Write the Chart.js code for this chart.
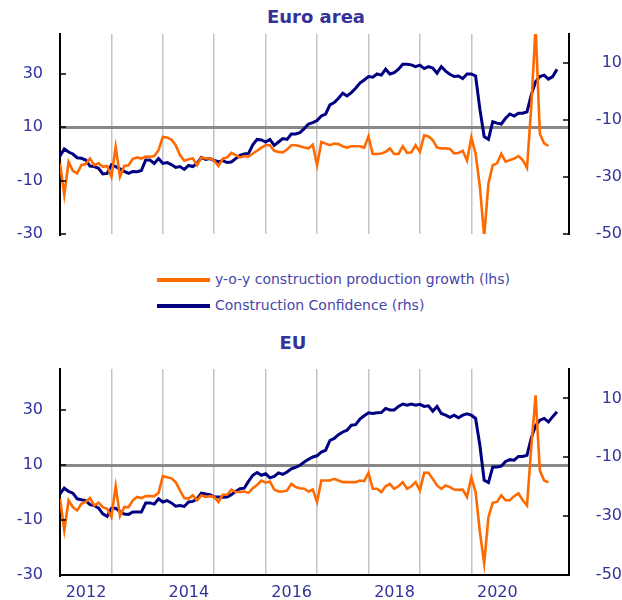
<!DOCTYPE html>
<html>
<head>
<meta charset="utf-8">
<script src="https://cdn.jsdelivr.net/npm/chart.js@4.4.1/dist/chart.umd.min.js"></script>
<style>
  html, body { margin: 0; padding: 0; background: #fff; }
  body { width: 622px; height: 600px; position: relative; overflow: hidden; font-family: "DejaVu Sans", sans-serif; }
  canvas { position: absolute; left: 0; }
  #euroCanvas { top: 0; }
  #euCanvas { top: 330px; }
  .title { position: absolute; font-weight: bold; font-size: 18px; color: #333399; line-height: 20px; white-space: nowrap; transform: translateX(-50%); }
  .legend-row { position: absolute; left: 157px; height: 20px; line-height: 20px; font-family: "DejaVu Sans", sans-serif; font-size: 14px; color: #4646aa; white-space: nowrap; }
  .legend-row span.swatch { display: inline-block; width: 53px; height: 4px; vertical-align: middle; margin-right: 5px; }
</style>
</head>
<body>
<div class="title" style="left:316px; top:7px;">Euro area</div>
<canvas id="euroCanvas" width="622" height="246"></canvas>
<div id="legend"></div>
<div class="title" style="left:293px; top:333px;">EU</div>
<canvas id="euCanvas" width="622" height="270"></canvas>
<script>
const startYear = 2012;
const yearLabels = [2012, 2014, 2016, 2018, 2020];
const leftTicks = [-30, -10, 10, 30];
const rightTicks = [-50, -30, -10, 10];
const seriesNames = ['y-o-y construction production growth (lhs)', 'Construction Confidence (rhs)'];
const seriesColors = ['#ff6a00', '#000080'];

// Euro area, monthly from Jan 2012
const euroGrowth = [
  -3.5, -15.3, -2.9, -6.3, -7.3, -4.2, -3.8, -1.7, -4.2, -3.5, -4.8, -4.5,
  -8.5, 2.7, -8.5, -4.5, -4.2, -1.8, -1.3, -1.7, -1.0, -1.0, -0.8, 1.4,
  6.4, 6.2, 5.4, 3.3, -0.4, -2.5, -2.0, -1.7, -4.2, -1.3, -1.7, -1.7,
  -2.5, -4.5, -1.7, -1.3, 0.4, -0.4, -1.3, -0.8, -1.0, 0.2, 1.2, 2.4,
  3.3, 3.3, 1.2, 0.8, 0.6, 1.7, 3.3, 3.3, 2.9, 2.4, 2.1, 3.5,
  -4.2, 4.5, 3.9, 3.3, 3.9, 3.7, 2.9, 2.4, 2.9, 2.9, 2.9, 2.4,
  6.6, 0.0, 0.0, 0.2, 0.8, 2.1, 0.0, 0.0, 2.9, 0.4, 0.6, 3.3,
  0.8, 7.0, 6.6, 5.2, 2.4, 2.1, 2.1, 1.9, 0.2, 0.4, 1.2, -2.5,
  6.2, 0.2, -12.2, -31.0, -11.0, -4.2, -3.5, 0.0, -2.9, -2.3, -1.7, -0.8,
  -2.3, -5.2, 18.0, 48.0, 7.5, 4.0, 3.0
];
const euroConfidence = [
  -22.7, -20.2, -21.3, -22.0, -23.3, -23.5, -24.1, -26.2, -26.4, -27.0, -29.0, -28.8,
  -25.8, -26.4, -27.2, -28.1, -28.8, -28.1, -28.2, -27.8, -24.1, -24.1, -25.3, -23.6,
  -25.3, -25.0, -25.7, -26.7, -26.4, -27.4, -26.0, -26.4, -25.3, -23.2, -23.9, -23.6,
  -24.3, -24.7, -24.3, -25.0, -24.8, -23.6, -22.5, -22.0, -21.8, -18.8, -16.9, -17.1,
  -17.8, -16.9, -19.0, -17.8, -16.6, -16.9, -15.0, -15.0, -14.5, -13.1, -11.5, -11.0,
  -10.3, -8.7, -8.0, -4.8, -4.0, -2.5, -0.7, -1.7, -0.5, 1.0, 2.8, 3.9,
  5.1, 4.9, 6.0, 5.6, 7.7, 6.0, 6.5, 7.7, 9.4, 9.4, 9.2, 8.6,
  9.1, 7.9, 8.6, 8.1, 6.3, 8.6, 7.0, 5.9, 5.1, 5.3, 4.4, 6.0,
  6.0, 5.3, -6.3, -15.9, -16.9, -10.7, -11.2, -11.5, -9.5, -8.0, -8.7, -7.7,
  -7.7, -7.2, -1.3, 3.3, 5.1, 5.6, 4.2, 5.1, 7.7
];

// EU, monthly from Jan 2012
const euGrowth = [
  -2.2, -13.7, -2.8, -5.3, -6.5, -4.1, -3.4, -2.0, -4.7, -3.7, -5.3, -5.9,
  -8.9, 2.3, -8.5, -5.3, -5.3, -2.8, -1.6, -2.0, -1.3, -1.3, -1.3, -0.1,
  6.0, 5.6, 5.2, 3.8, 0.8, -2.0, -2.2, -1.0, -2.8, -1.0, -1.6, -1.3,
  -1.6, -3.4, -0.8, -0.8, 1.1, 0.2, 0.2, 0.4, -0.1, 1.6, 2.8, 4.4,
  3.6, 4.0, 1.1, 0.4, 0.4, 0.8, 3.2, 2.0, 1.6, 1.4, 0.4, 1.1,
  -3.4, 4.4, 4.4, 4.4, 5.0, 4.4, 3.8, 3.8, 3.8, 3.8, 4.4, 4.2,
  7.2, 1.4, 1.4, 0.2, 2.3, 3.2, 1.4, 2.3, 3.8, 1.4, 2.3, 3.8,
  0.8, 7.2, 7.2, 5.0, 2.6, 1.4, 2.6, 2.0, 1.1, 1.0, 1.1, -1.6,
  5.6, 0.2, -14.3, -25.8, -8.9, -3.7, -3.4, -1.0, -2.8, -2.8, -1.3, -0.3,
  -2.8, -4.7, 16.7, 35.4, 8.0, 4.4, 3.7
];
const euConfidence = [
  -22.4, -20.5, -21.6, -22.2, -24.1, -24.4, -24.7, -26.1, -26.4, -27.3, -29.2, -30.1,
  -27.3, -27.3, -28.4, -29.3, -29.4, -28.6, -28.6, -28.6, -25.5, -25.5, -25.9, -24.1,
  -25.2, -24.7, -25.5, -26.6, -26.4, -26.7, -25.2, -25.0, -24.1, -22.2, -22.5, -22.7,
  -23.5, -23.5, -23.6, -23.5, -22.7, -21.6, -20.7, -20.5, -18.2, -16.1, -15.2, -16.1,
  -15.6, -17.0, -16.5, -15.3, -15.8, -15.0, -13.9, -13.4, -12.7, -11.6, -10.7, -9.9,
  -9.5, -8.2, -7.6, -4.3, -3.6, -2.3, -1.4, -0.8, 0.9, 1.1, 3.0, 4.1,
  5.1, 4.9, 5.1, 5.2, 6.6, 6.1, 6.1, 7.3, 8.1, 7.7, 8.1, 7.7,
  8.0, 7.3, 7.5, 5.7, 7.3, 4.9, 4.3, 3.6, 4.3, 3.4, 4.3, 4.8,
  4.3, 3.2, -5.9, -17.8, -18.6, -13.3, -13.3, -13.0, -11.4, -10.8, -11.0, -9.7,
  -9.7, -9.3, -3.4, 0.7, 2.6, 3.2, 2.0, 3.8, 5.5
];

const toPoints = values => values.map((v, i) => ({ x: startYear + i / 12, y: v }));

document.getElementById('legend').innerHTML = seriesNames.map((name, i) =>
  `<div class="legend-row" style="top:${269 + i * 26}px"><span class="swatch" style="background:${seriesColors[i]}"></span>${name}</div>`
).join('');

// small tick marks pointing into the plot
const inwardTicks = {
  id: 'inwardTicks',
  afterDatasetsDraw(chart) {
    const ctx = chart.ctx;
    ctx.save();
    ctx.strokeStyle = '#000';
    ctx.lineWidth = 1.5;
    [['y', leftTicks, 1], ['y1', rightTicks, -1]].forEach(([id, vals, dir]) => {
      const s = chart.scales[id];
      const x0 = dir > 0 ? s.right : s.left;
      vals.forEach(v => {
        const y = Math.round(s.getPixelForValue(v));
        ctx.beginPath();
        ctx.moveTo(x0, y);
        ctx.lineTo(x0 + dir * 6, y);
        ctx.stroke();
      });
    });
    ctx.restore();
  }
};

const fixTicks = values => s => { s.ticks = values.map(v => ({ value: v })); };
const fitY = width => s => { s.width = width; s.paddingTop = 0; s.paddingBottom = 0; };

function makeChart(id, growth, confidence, showYears, topPad, xHeight) {
  const ctx = document.getElementById(id).getContext('2d');
  return new Chart(ctx, {
    type: 'line',
    data: {
      datasets: [{
        label: seriesNames[0],
        data: toPoints(growth),
        borderColor: seriesColors[0],
        borderWidth: 2.6,
        pointRadius: 0,
        tension: 0,
        yAxisID: 'y'
      }, {
        label: seriesNames[1],
        data: toPoints(confidence),
        borderColor: seriesColors[1],
        borderWidth: 3,
        pointRadius: 0,
        tension: 0,
        yAxisID: 'y1'
      }]
    },
    options: {
      responsive: false,
      animation: false,
      events: [],
      layout: { padding: { top: topPad, left: 0, right: 0, bottom: 0 } },
      plugins: { legend: { display: false }, tooltip: { enabled: false } },
      scales: {
        x: {
          type: 'linear',
          min: 2012,
          max: 2021.9,
          afterFit: s => { s.height = xHeight; },
          border: { display: showYears, color: '#000', width: 2 },
          grid: {
            drawTicks: false,
            lineWidth: 1.5,
            color: c => (Number.isInteger(c.tick.value) && c.tick.value > startYear) ? '#c4c4c4' : 'rgba(0,0,0,0)'
          },
          ticks: {
            display: showYears,
            stepSize: 1,
            autoSkip: false,
            maxRotation: 0,
            labelOffset: 26,
            padding: 8,
            color: '#333399',
            font: { family: 'DejaVu Sans', size: 16 },
            callback: v => yearLabels.includes(v) ? String(v) : ''
          }
        },
        y: {
          position: 'left',
          min: -30,
          max: 45,
          afterBuildTicks: fixTicks(leftTicks),
          afterFit: fitY(60),
          border: { color: '#000', width: 2 },
          grid: {
            drawTicks: false,
            lineWidth: 3,
            color: c => c.tick.value === 10 ? '#888888' : 'rgba(0,0,0,0)'
          },
          ticks: {
            padding: 17,
            color: '#333399',
            font: { family: 'DejaVu Sans', size: 16 }
          }
        },
        y1: {
          position: 'right',
          min: -50,
          max: 20,
          afterBuildTicks: fixTicks(rightTicks),
          afterFit: fitY(53),
          border: { color: '#000', width: 2 },
          grid: { drawOnChartArea: false, drawTicks: false },
          ticks: {
            padding: 17,
            crossAlign: 'far',
            color: '#333399',
            font: { family: 'DejaVu Sans', size: 16 }
          }
        }
      }
    },
    plugins: [inwardTicks]
  });
}

makeChart('euroCanvas', euroGrowth, euroConfidence, false, 34, 12);
makeChart('euCanvas', euGrowth, euConfidence, true, 39, 25);
</script>
</body>
</html>
